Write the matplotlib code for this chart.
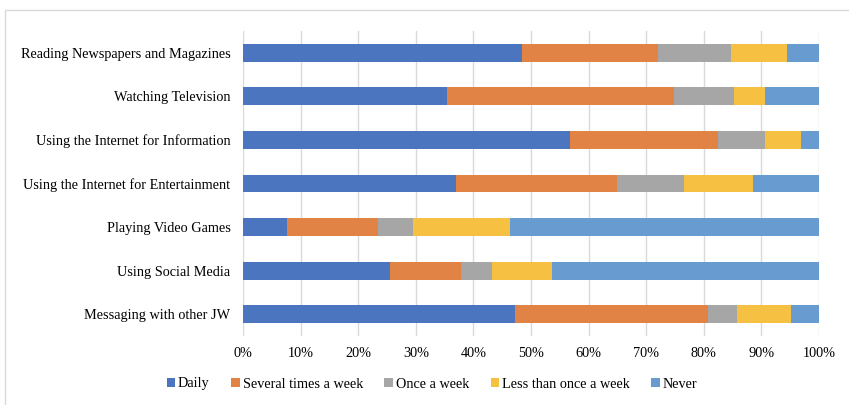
import numpy as np
import matplotlib.pyplot as plt
from matplotlib.patches import Rectangle

plt.rcParams['font.family'] = ['Liberation Serif', 'DejaVu Serif']

activities = ["Reading Newspapers and Magazines", "Watching Television",
              "Using the Internet for Information", "Using the Internet for Entertainment",
              "Playing Video Games", "Using Social Media", "Messaging with other JW"]

daily = [48.5, 35.5, 56.8, 37.0, 7.6, 25.6, 47.2]
several = [23.5, 39.3, 25.7, 27.9, 15.8, 12.2, 33.6]
once = [12.7, 10.5, 8.2, 11.6, 6.1, 5.4, 4.9]
less = [9.8, 5.4, 6.1, 12.0, 16.8, 10.4, 9.4]
never = [5.5, 9.3, 3.2, 11.5, 53.7, 46.4, 4.9]

series = ["Daily", "Several times a week", "Once a week", "Less than once a week", "Never"]
colors = ["#4C75BF", "#E08345", "#A6A6A6", "#F6C143", "#689BCF"]

W, H = 849, 405
fig = plt.figure(figsize=(W / 100, H / 100), dpi=100)

# chart frame
fig.patches.append(Rectangle((5 / W, -0.1), 1.1, 1 - 10 / H + 0.1, transform=fig.transFigure,
                             fill=False, edgecolor="#D9D9D9", linewidth=1))

ax = fig.add_axes([243 / W, 1 - 336 / H, (819 - 243) / W, (336 - 31) / H])

y = np.arange(len(activities))
left = np.zeros(len(activities))
for name, vals, c in zip(series, [daily, several, once, less, never], colors):
    vals = np.array(vals)
    ax.barh(y, vals, left=left, height=0.41, color=c, label=name, zorder=3)
    left += vals

fs = 10.3
ax.set_xlim(0, 100)
ax.set_ylim(len(activities) - 0.5, -0.5)
ax.set_xticks(np.arange(0, 101, 10))
ax.set_xticklabels([f"{v}%" for v in range(0, 101, 10)], fontsize=fs)
ax.set_yticks(y)
ax.set_yticklabels(activities, fontsize=fs)
ax.tick_params(length=0)
ax.tick_params(axis='x', pad=8)
ax.tick_params(axis='y', pad=9)
ax.grid(axis='x', color="#D9D9D9", linewidth=1, zorder=0)
for s in ax.spines.values():
    s.set_visible(False)

fig.legend(loc="center", bbox_to_anchor=(432 / W, 1 - 384 / H), ncol=5, frameon=False,
           fontsize=fs, handlelength=0.6, handleheight=0.6, handletextpad=0.2,
           columnspacing=1.5, borderpad=0)

fig.savefig("out.png", dpi=100)
